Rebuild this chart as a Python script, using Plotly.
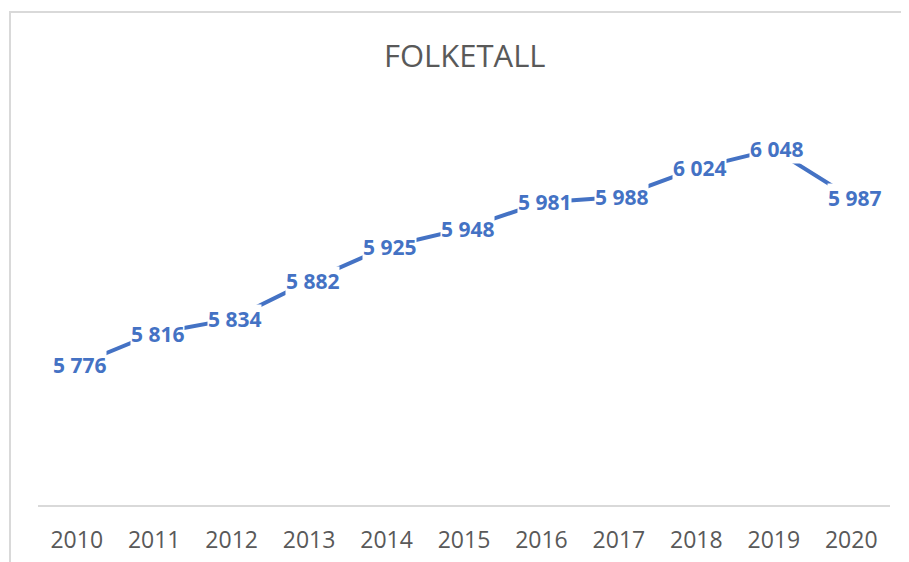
import plotly.graph_objects as go

years = ["2010", "2011", "2012", "2013", "2014", "2015", "2016", "2017", "2018", "2019", "2020"]
folketall = [5776, 5816, 5834, 5882, 5925, 5948, 5981, 5988, 6024, 6048, 5987]
title_text = "FOLKETALL"

# page body has an 8px margin; figure is laid out in figure pixels
OFF = 8
W, H = 909 - OFF, 562 - OFF
L, R, T, B = 38 - OFF, 909 - 890, 108 - OFF, 562 - 505
pw, ph = W - L - R, H - T - B


def px_x(sx):
    return (sx - OFF - L) / pw


def px_y(sy):
    return (H - B - (sy - OFF)) / ph


fig = go.Figure()
fig.add_trace(go.Scatter(
    x=years, y=folketall, mode="lines",
    line=dict(color="#4472C4", width=4),
    hoverinfo="skip", showlegend=False,
))

for i, v in enumerate(folketall):
    fig.add_annotation(
        x=i, y=v, xref="x", yref="y", xshift=3,
        text="<b>" + f"{v:,}".replace(",", " ") + "</b>",
        showarrow=False, xanchor="center", yanchor="middle",
        font=dict(family="Open Sans", size=21, color="#4472C4"),
        bgcolor="white", borderpad=0,
    )

fig.add_annotation(
    x=px_x(465), y=px_y(55), xref="paper", yref="paper",
    text=title_text, showarrow=False, xanchor="center", yanchor="middle",
    font=dict(family="Open Sans", size=31, color="#595959"),
)

# chart border
fig.add_shape(
    type="rect", xref="paper", yref="paper",
    x0=px_x(10), x1=px_x(930),
    y0=px_y(580), y1=px_y(12),
    line=dict(color="#d9d9d9", width=2), fillcolor="rgba(0,0,0,0)", layer="below",
)

fig.update_layout(
    width=W, height=H,
    margin=dict(l=L, r=R, t=T, b=B, autoexpand=False),
    paper_bgcolor="white", plot_bgcolor="white",
    xaxis=dict(
        type="category", range=[-0.5, 10.5], showgrid=False,
        showline=True, linecolor="#d9d9d9", linewidth=2,
        ticks="", ticklabelstandoff=13, automargin=False,
        tickfont=dict(family="Open Sans", size=23, color="#595959"),
        zeroline=False, fixedrange=True,
    ),
    yaxis=dict(
        range=[5600, 6100], visible=False, showgrid=False, zeroline=False,
        automargin=False,
    ),
)

fig.write_html("out.html")
